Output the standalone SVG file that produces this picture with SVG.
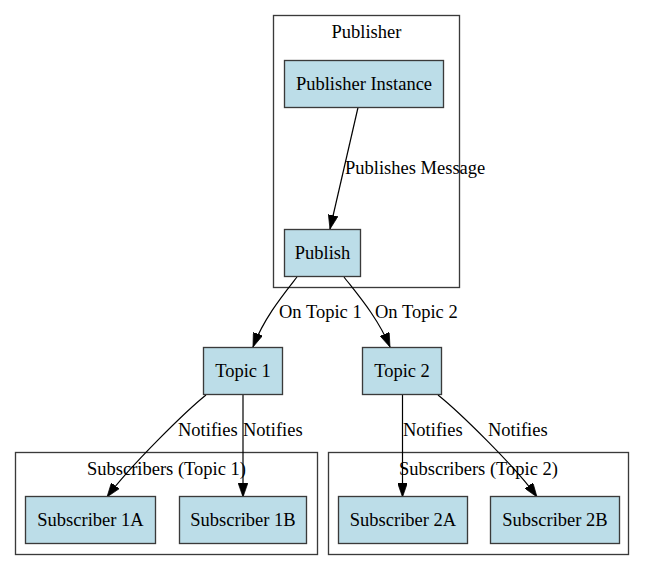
<svg xmlns="http://www.w3.org/2000/svg" width="645" height="571" viewBox="0 0 645 571">
<style>
.bg{fill:#ffffff}
.cluster{fill:none;stroke:#3a3a3a;stroke-width:1.33}
.node rect{fill:#bcdde8;stroke:#3a3a3a;stroke-width:1.33}
text{font-family:"Liberation Serif","Times New Roman",serif;font-size:18.5px;fill:#000}
.c{text-anchor:middle}
.edge{fill:none;stroke:#000;stroke-width:1.2;marker-end:url(#arrow)}
</style>
<defs>
<marker id="arrow" viewBox="0 0 10 7" refX="10" refY="3.5" markerWidth="14" markerHeight="9.8" markerUnits="userSpaceOnUse" orient="auto">
<path d="M0,0 L10,3.5 L0,7 z" fill="#000" stroke="#000" stroke-width="0.5"/>
</marker>
</defs>
<rect class="bg" x="0" y="0" width="645" height="571"/>
<g id="cluster_publisher">
<rect class="cluster" x="273.5" y="15.5" width="186" height="272"/>
<text class="c" x="366.5" y="38">Publisher</text>
</g>
<g id="cluster_sub1">
<rect class="cluster" x="15.5" y="452.5" width="302" height="102"/>
<text class="c" x="166.5" y="475">Subscribers (Topic 1)</text>
</g>
<g id="cluster_sub2">
<rect class="cluster" x="328.5" y="452.5" width="300" height="102"/>
<text class="c" x="478.5" y="475">Subscribers (Topic 2)</text>
</g>
<g id="edges">
<path class="edge" d="M358,107.5 L330,229"/>
<text x="345" y="174">Publishes Message</text>
<path class="edge" d="M297,277 C283,295 264,318 253,347"/>
<text x="279" y="318">On Topic 1</text>
<path class="edge" d="M344,277 C358,295 378,318 390,347"/>
<text x="375" y="318">On Topic 2</text>
<path class="edge" d="M206,395 C186,411 130,466 107,497"/>
<text x="178" y="436">Notifies</text>
<path class="edge" d="M243,395 L243,497"/>
<text x="243" y="436">Notifies</text>
<path class="edge" d="M402.5,395 L402.5,497"/>
<text x="403" y="436">Notifies</text>
<path class="edge" d="M438,395 C458,411 515,466 537,497"/>
<text x="488" y="436">Notifies</text>
</g>
<g id="node_publisher_instance" class="node">
<rect x="284.5" y="60.5" width="159" height="47"/>
<text class="c" x="364" y="89.5">Publisher Instance</text>
</g>
<g id="node_publish" class="node">
<rect x="284.5" y="229.5" width="76" height="47"/>
<text class="c" x="322.5" y="259">Publish</text>
</g>
<g id="node_topic1" class="node">
<rect x="203.5" y="347.5" width="79" height="47"/>
<text class="c" x="243" y="377">Topic 1</text>
</g>
<g id="node_topic2" class="node">
<rect x="362.5" y="347.5" width="79" height="47"/>
<text class="c" x="402" y="377">Topic 2</text>
</g>
<g id="node_sub1a" class="node">
<rect x="25.5" y="496.5" width="130" height="47"/>
<text class="c" x="90.5" y="526">Subscriber 1A</text>
</g>
<g id="node_sub1b" class="node">
<rect x="179.5" y="496.5" width="127" height="47"/>
<text class="c" x="243" y="526">Subscriber 1B</text>
</g>
<g id="node_sub2a" class="node">
<rect x="338.5" y="496.5" width="129" height="47"/>
<text class="c" x="403" y="526">Subscriber 2A</text>
</g>
<g id="node_sub2b" class="node">
<rect x="490.5" y="496.5" width="129" height="47"/>
<text class="c" x="555" y="526">Subscriber 2B</text>
</g>
</svg>
